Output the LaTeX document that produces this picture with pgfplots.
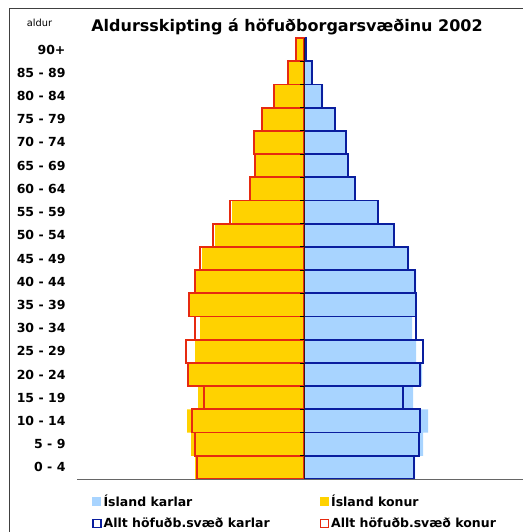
\documentclass[border=0pt]{standalone}
\usepackage{pgfplots}
\pgfplotsset{compat=1.18}
\usepackage{fontspec}
\setmainfont{DejaVu Sans}
\definecolor{isgold}{HTML}{FFD200}
\definecolor{isblue}{HTML}{A8D4FF}
\definecolor{hred}{HTML}{E62A10}
\definecolor{hblue}{HTML}{0A1E9E}
\definecolor{framegray}{HTML}{404040}
\definecolor{centerline}{HTML}{3A1A10}
\begin{document}
\begin{tikzpicture}
\begin{axis}[
  scale only axis,
  width=446pt, height=441pt,
  xmin=-227, xmax=219, ymin=-0.5, ymax=18.5,
  xbar, bar width=1, bar shift=0,
  axis line style={draw=none},
  xtick=\empty,
  ytick={0,...,18},
  yticklabels={0 - 4,5 - 9,10 - 14,15 - 19,20 - 24,25 - 29,30 - 34,35 - 39,40 - 44,45 - 49,50 - 54,55 - 59,60 - 64,65 - 69,70 - 74,75 - 79,80 - 84,85 - 89,90+},
  major tick length=0pt,
  yticklabel style={font=\bfseries\fontsize{12.5}{14}\selectfont, xshift=-8pt},
  clip=false,
  legend columns=2,
  legend cell align=left,
  legend style={draw=none, fill=none, at={(axis cs:-212,-0.5)}, anchor=north west, yshift=-14pt,
    font=\bfseries\fontsize{12.5}{14}\selectfont, inner sep=0pt, row sep=5.5pt,
    /tikz/every even column/.append style={column sep=48pt}},
]
\addplot[fill=isblue, draw=none, legend image code/.code={\fill[isblue] (0pt,-4.5pt) rectangle (9pt,4.5pt);}] coordinates {
(111,0) (119,1) (124,2) (109,3) (118,4) (112,5) (108,6) (112,7) (112,8) (105,9) (90,10) (73,11) (51,12) (43,13) (41,14) (31,15) (19,16) (8,17) (2,18)};
\addlegendentry{Ísland karlar}
\addplot[fill=isgold, draw=none, legend image code/.code={\fill[isgold] (0pt,-4.5pt) rectangle (9pt,4.5pt);}] coordinates {
(-109,0) (-113,1) (-117,2) (-106,3) (-115,4) (-109,5) (-104,6) (-115,7) (-109,8) (-102,9) (-89,10) (-72,11) (-53,12) (-49,13) (-50,14) (-41,15) (-29,16) (-17,17) (-8,18)};
\addlegendentry{Ísland konur}
\addplot[fill=none, draw=hblue, line width=1.8pt, legend image code/.code={\draw[hblue, line width=1.4pt] (0.7pt,-4pt) rectangle (8.7pt,4pt);}] coordinates {
(110,0) (115,1) (116,2) (99,3) (116,4) (119,5) (112,6) (112,7) (111,8) (104,9) (90,10) (74,11) (51,12) (44,13) (42,14) (31,15) (18,16) (8,17) (2,18)};
\addlegendentry{Allt höfuðb.svæð karlar}
\addplot[fill=none, draw=hred, line width=1.8pt, legend image code/.code={\draw[hred, line width=1.4pt] (0.7pt,-4pt) rectangle (8.7pt,4pt);}] coordinates {
(-107,0) (-109,1) (-112,2) (-100,3) (-116,4) (-118,5) (-109,6) (-115,7) (-109,8) (-104,9) (-91,10) (-74,11) (-54,12) (-49,13) (-50,14) (-42,15) (-30,16) (-16,17) (-8,18)};
\addlegendentry{Allt höfuðb.svæð konur}
\draw[centerline, line width=1pt] (axis cs:0,-0.5) -- (axis cs:0,18.5);
\pgfplotsinvokeforeach{0,...,17}{\draw[black, line width=0.8pt] (axis cs:-4,#1.5) -- (axis cs:0,#1.5);}
\draw[gray!80!black, line width=0.8pt] (rel axis cs:0,0) -- (rel axis cs:1,0);
\coordinate (P) at (axis cs:-304,-2.7834);
\end{axis}
\pgfresetboundingbox
\begin{scope}[shift={(P)}, x=1pt, y=1pt]
\path[use as bounding box] (0,0) rectangle (523,532);
\draw[framegray, line width=0.8pt] (9,0) -- (9,524) -- (523,524);
\node[font=\fontsize{9.8}{11}\selectfont, anchor=base] at (39.5,505.5) {aldur};
\node[font=\bfseries\fontsize{16}{19}\selectfont, anchor=base] at (287,500.5) {Aldursskipting á höfuðborgarsvæðinu 2002};
\end{scope}
\end{tikzpicture}
\end{document}
